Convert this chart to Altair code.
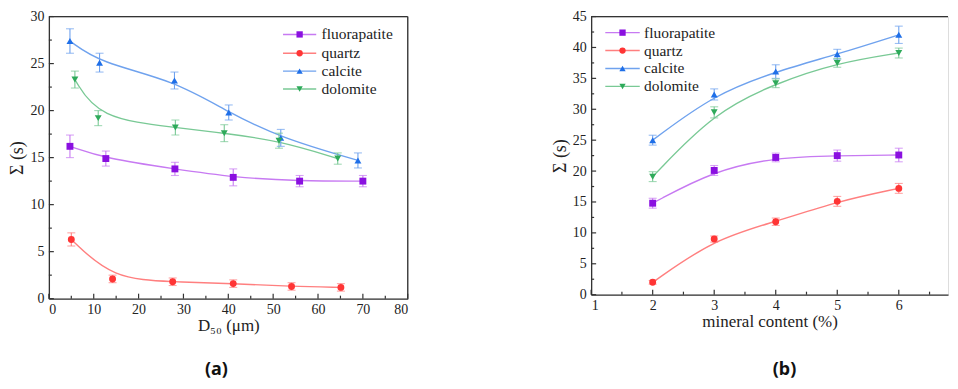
import altair as alt
import pandas as pd

series = ["fluorapatite", "quartz", "calcite", "dolomite"]
shapes = ["square", "circle", "triangle-up", "triangle-down"]
marker_colors = ["#8A10E0", "#FF3535", "#1F6FE8", "#2EAA5A"]
line_colors = ["#C77AF2", "#FF7F7F", "#6FA2EE", "#79C995"]

# ---- panel (a): Sigma vs D50 ----
a_fluor_x = [4.7, 12.7, 28.1, 41.1, 55.9, 70.0]
a_fluor_y = [16.2, 14.9, 13.8, 12.9, 12.5, 12.5]
a_fluor_e = [1.2, 0.8, 0.7, 0.9, 0.6, 0.6]
a_quartz_x = [5.0, 14.2, 27.6, 41.1, 54.1, 65.1]
a_quartz_y = [6.3, 2.1, 1.8, 1.6, 1.3, 1.2]
a_quartz_e = [0.7, 0.4, 0.4, 0.4, 0.4, 0.4]
a_calcite_x = [4.7, 11.3, 28.0, 40.1, 51.7, 68.9]
a_calcite_y = [27.4, 25.1, 23.2, 19.8, 17.1, 14.7]
a_calcite_e = [1.3, 1.0, 0.9, 0.8, 0.9, 0.8]
a_dolomite_x = [5.8, 11.0, 28.2, 39.1, 51.3, 64.4]
a_dolomite_y = [23.3, 19.2, 18.2, 17.6, 16.8, 14.9]
a_dolomite_e = [0.9, 0.8, 0.8, 0.9, 0.8, 0.6]

# ---- panel (b): Sigma vs mineral content ----
b_x = [2, 3, 4, 5, 6]
b_fluor_y = [14.8, 20.1, 22.2, 22.5, 22.6]
b_fluor_e = [0.8, 0.8, 0.7, 0.9, 1.1]
b_quartz_y = [2.0, 9.0, 11.8, 15.1, 17.2]
b_quartz_e = [0.3, 0.5, 0.6, 0.8, 0.8]
b_calcite_y = [25.0, 32.4, 36.1, 38.9, 42.05]
b_calcite_e = [0.8, 0.9, 1.1, 0.8, 1.4]
b_dolomite_y = [19.1, 29.5, 34.2, 37.5, 39.1]
b_dolomite_e = [0.8, 0.9, 0.7, 0.7, 0.8]

a_xticks = [0, 10, 20, 30, 40, 50, 60, 70, 80]
a_xminor = [5, 15, 25, 35, 45, 55, 65, 75]
a_yticks = [0, 5, 10, 15, 20, 25, 30]
a_yminor = [2.5, 7.5, 12.5, 17.5, 22.5, 27.5]
b_xticks = [1, 2, 3, 4, 5, 6]
b_xminor = [1.5, 2.5, 3.5, 4.5, 5.5, 6.5]
b_yticks = [0, 5, 10, 15, 20, 25, 30, 35, 40, 45]
b_yminor = [2.5, 7.5, 12.5, 17.5, 22.5, 27.5, 32.5, 37.5, 42.5]


def build(xs, ys, es):
    rows = []
    for s, xv, yv, ev in zip(series, xs, ys, es):
        for x, y, e in zip(xv, yv, ev):
            rows.append({"s": s, "x": x, "y": y, "lo": y - e, "hi": y + e})
    return pd.DataFrame(rows)


df_a = build([a_fluor_x, a_quartz_x, a_calcite_x, a_dolomite_x],
             [a_fluor_y, a_quartz_y, a_calcite_y, a_dolomite_y],
             [a_fluor_e, a_quartz_e, a_calcite_e, a_dolomite_e])
df_b = build([b_x] * 4,
             [b_fluor_y, b_quartz_y, b_calcite_y, b_dolomite_y],
             [b_fluor_e, b_quartz_e, b_calcite_e, b_dolomite_e])

SERIF = "Liberation Serif"
AX = "#333333"

lcol = alt.Scale(domain=series, range=line_colors)
mcol = alt.Scale(domain=series, range=marker_colors)
shp = alt.Scale(domain=series, range=shapes)


def panel(df, xdom, ydom, W, H, xt, xm, yt, ym, xtitle, leg, caption, cap_xy, box_right):
    xs = alt.Scale(domain=xdom, nice=False, zero=False)
    ys = alt.Scale(domain=ydom, nice=False)
    xax = alt.Axis(values=xt, format="d", ticks=False, tickSize=0, grid=False, labelFont=SERIF,
                   labelFontSize=14, labelColor="#222", labelPadding=4, labelOverlap=False,
                   domainColor=AX, domainWidth=1.3,
                   title=xtitle, titleFont=SERIF, titleFontSize=17, titleFontWeight="normal",
                   titleColor="#222", titlePadding=1)
    yax = alt.Axis(values=yt, format="d", ticks=False, tickSize=0, grid=False, labelFont=SERIF,
                   labelFontSize=14, labelColor="#222", labelPadding=5, labelOverlap=False,
                   domainColor=AX, domainWidth=1.3,
                   title="Σ (s)", titleFont=SERIF, titleFontSize=18, titleFontWeight="normal",
                   titleColor="#222", titlePadding=3)

    def X(f):
        return alt.X(f, scale=xs, axis=xax)

    def Y(f):
        return alt.Y(f, scale=ys, axis=yax)

    base = alt.Chart(df)
    line = base.mark_line(interpolate="basis", strokeWidth=1.4).encode(
        x=X("x:Q"), y=Y("y:Q"), color=alt.Color("s:N", scale=lcol, legend=None))
    err = base.mark_rule(strokeWidth=1.1).encode(
        x=X("x:Q"), y=Y("lo:Q"), y2="hi:Q",
        color=alt.Color("s:N", scale=lcol, legend=None))
    cap_lo = base.mark_tick(orient="horizontal", size=8, thickness=1.1).encode(
        x=X("x:Q"), y=Y("lo:Q"),
        color=alt.Color("s:N", scale=lcol, legend=None))
    cap_hi = base.mark_tick(orient="horizontal", size=8, thickness=1.1).encode(
        x=X("x:Q"), y=Y("hi:Q"),
        color=alt.Color("s:N", scale=lcol, legend=None))
    pts = base.mark_point(filled=True, size=48, opacity=1).encode(
        x=X("x:Q"), y=Y("y:Q"),
        fill=alt.Fill("s:N", scale=mcol, legend=None),
        shape=alt.Shape("s:N", scale=shp, legend=None))

    ldf = pd.DataFrame({"s": series, "x1": leg["x1"], "x2": leg["x2"], "xm": leg["xm"],
                        "tx": leg["tx"], "ly": leg["ly"]})
    lbase = alt.Chart(ldf)
    lline = lbase.mark_rule(strokeWidth=1.4).encode(
        x=X("x1:Q"), x2="x2:Q", y=Y("ly:Q"),
        color=alt.Color("s:N", scale=lcol, legend=None))
    lpt = lbase.mark_point(filled=True, size=40, opacity=1).encode(
        x=X("xm:Q"), y=Y("ly:Q"),
        fill=alt.Fill("s:N", scale=mcol, legend=None),
        shape=alt.Shape("s:N", scale=shp, legend=None))
    ltxt = lbase.mark_text(align="left", baseline="middle", font=SERIF, fontSize=15.5, color="#222").encode(
        x=X("tx:Q"), y=Y("ly:Q"), text="s:N")

    tx_major = alt.Chart(pd.DataFrame({"v": xt})).mark_rule(color=AX, strokeWidth=1.2).encode(
        x=X("v:Q"), y=alt.value(H), y2=alt.value(H - 5))
    tx_minor = alt.Chart(pd.DataFrame({"v": xm})).mark_rule(color=AX, strokeWidth=1.2).encode(
        x=X("v:Q"), y=alt.value(H), y2=alt.value(H - 3))
    ty_major = alt.Chart(pd.DataFrame({"v": yt})).mark_rule(color=AX, strokeWidth=1.2).encode(
        y=Y("v:Q"), x=alt.value(0), x2=alt.value(5))
    ty_minor = alt.Chart(pd.DataFrame({"v": ym})).mark_rule(color=AX, strokeWidth=1.2).encode(
        y=Y("v:Q"), x=alt.value(0), x2=alt.value(3))
    top = alt.Chart(pd.DataFrame({"v": [0]})).mark_rule(color=AX, strokeWidth=1.3).encode(
        x=alt.value(0), x2=alt.value(W), y=alt.value(0))
    layers = [line, err, cap_lo, cap_hi, pts, lline, lpt, ltxt,
              tx_major, tx_minor, ty_major, ty_minor, top]
    if box_right:
        layers.append(alt.Chart(pd.DataFrame({"v": [0]})).mark_rule(color=AX, strokeWidth=1.3).encode(
            x=alt.value(W), y=alt.value(0), y2=alt.value(H)))
    cap = alt.Chart(pd.DataFrame({"t": [caption]})).mark_text(
        font="Noto Sans", fontWeight="bold", fontSize=18, color="#111", baseline="middle").encode(
        text="t:N", x=alt.value(cap_xy[0]), y=alt.value(cap_xy[1]))
    layers.append(cap)
    return alt.layer(*layers).properties(width=W, height=H)


leg_a = {"x1": [52.2] * 4, "x2": [59.6] * 4, "xm": [55.9] * 4, "tx": [60.8] * 4,
         "ly": [28.1, 26.1, 24.2, 22.3]}
leg_b = {"x1": [1.23] * 4, "x2": [1.79] * 4, "xm": [1.51] * 4, "tx": [1.86] * 4,
         "ly": [42.4, 39.5, 36.6, 33.7]}

pa = panel(df_a, [0, 80], [0, 30], 360, 283, a_xticks, a_xminor, a_yticks, a_yminor,
           "D₅₀ (μm)", leg_a, "(a)", (168, 355), True)
pb = panel(df_b, [1, 6.8], [0, 45], 358, 279, b_xticks, b_xminor, b_yticks, b_yminor,
           "mineral content (%)", leg_b, "(b)", (194, 355), False)

chart = alt.hconcat(pa, pb, spacing=141).properties(
    padding={"left": 0, "top": 0, "right": 0, "bottom": 0}
).configure_view(stroke=None).configure(background="white")

chart.save("out.html", embed_options={"renderer": "svg", "actions": False})
